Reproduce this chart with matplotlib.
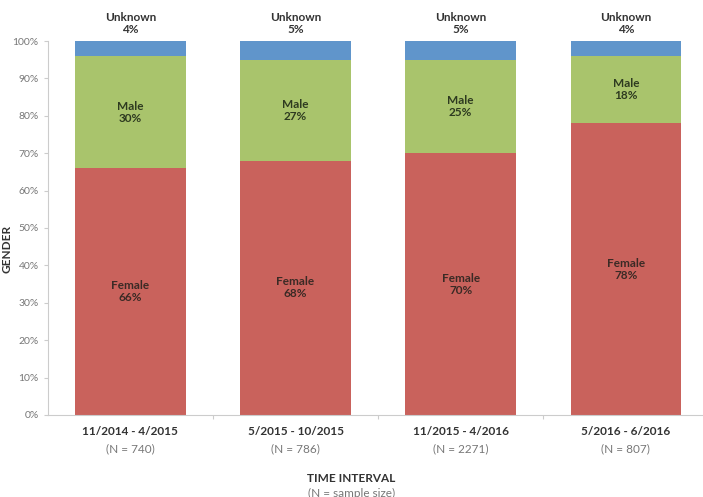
import matplotlib.pyplot as plt
import numpy as np

# data
intervals = ["11/2014 - 4/2015", "5/2015 - 10/2015", "11/2015 - 4/2016", "5/2016 - 6/2016"]
sample_sizes = ["(N = 740)", "(N = 786)", "(N = 2271)", "(N = 807)"]
female = [66, 68, 70, 78]
male = [30, 27, 25, 18]
unknown = [4, 5, 5, 4]

red = "#C9625C"
green = "#A9C46C"
blue = "#6095CB"

plt.rcParams['font.family'] = ['Lato', 'DejaVu Sans']

fig = plt.figure(figsize=(7.03, 4.97), dpi=100)
ax = fig.add_axes([0.068, 0.165, 0.935, 0.7525])

x = np.arange(len(intervals))
w = 0.67
ax.bar(x, female, w, color=red)
ax.bar(x, male, w, bottom=female, color=green)
bottom2 = [f + m for f, m in zip(female, male)]
ax.bar(x, unknown, w, bottom=bottom2, color=blue)

for i in range(len(x)):
    ax.text(x[i], female[i] / 2, f"Female\n{female[i]}%", ha='center', va='center',
            fontsize=8.5, fontweight='bold', color='#3a2a25', linespacing=1.1)
    ax.text(x[i], female[i] + male[i] / 2, f"Male\n{male[i]}%", ha='center', va='center',
            fontsize=8.5, fontweight='bold', color='#2e3a20', linespacing=1.1)
    ax.text(x[i], 101.5, f"Unknown\n{unknown[i]}%", ha='center', va='bottom',
            fontsize=8.5, fontweight='bold', color='#333333', linespacing=1.1)

ax.set_xlim(-0.5, 3.48)
ax.set_ylim(0, 100)
ax.set_yticks(range(0, 101, 10))
ax.set_yticklabels([f"{v}%" for v in range(0, 101, 10)], fontsize=7.5, color='#777777')
ax.set_xticks([0.5, 1.5, 2.5])
ax.set_xticklabels([])
ax.tick_params(axis='both', length=3, color='#cccccc')

for s in ['top', 'right']:
    ax.spines[s].set_visible(False)
for s in ['left', 'bottom']:
    ax.spines[s].set_color('#cccccc')

# category labels with sample sizes below
for i in range(len(x)):
    ax.text(x[i], -4.5, intervals[i], ha='center', va='center', fontsize=8.5,
            fontweight='bold', color='#333333', clip_on=False)
    ax.text(x[i], -9, sample_sizes[i], ha='center', va='center', fontsize=8.5,
            color='#777777', clip_on=False)

fig.text(0.5, 0.038, "TIME INTERVAL", ha='center', va='center', fontsize=8.5,
         fontweight='bold', color='#333333')
fig.text(0.5, 0.008, "(N = sample size)", ha='center', va='center', fontsize=8.5,
         color='#777777')
fig.text(0.010, 0.5, "GENDER", ha='center', va='center', rotation=90, fontsize=8.5,
         fontweight='bold', color='#333333')

fig.savefig("out.png", dpi=100)
